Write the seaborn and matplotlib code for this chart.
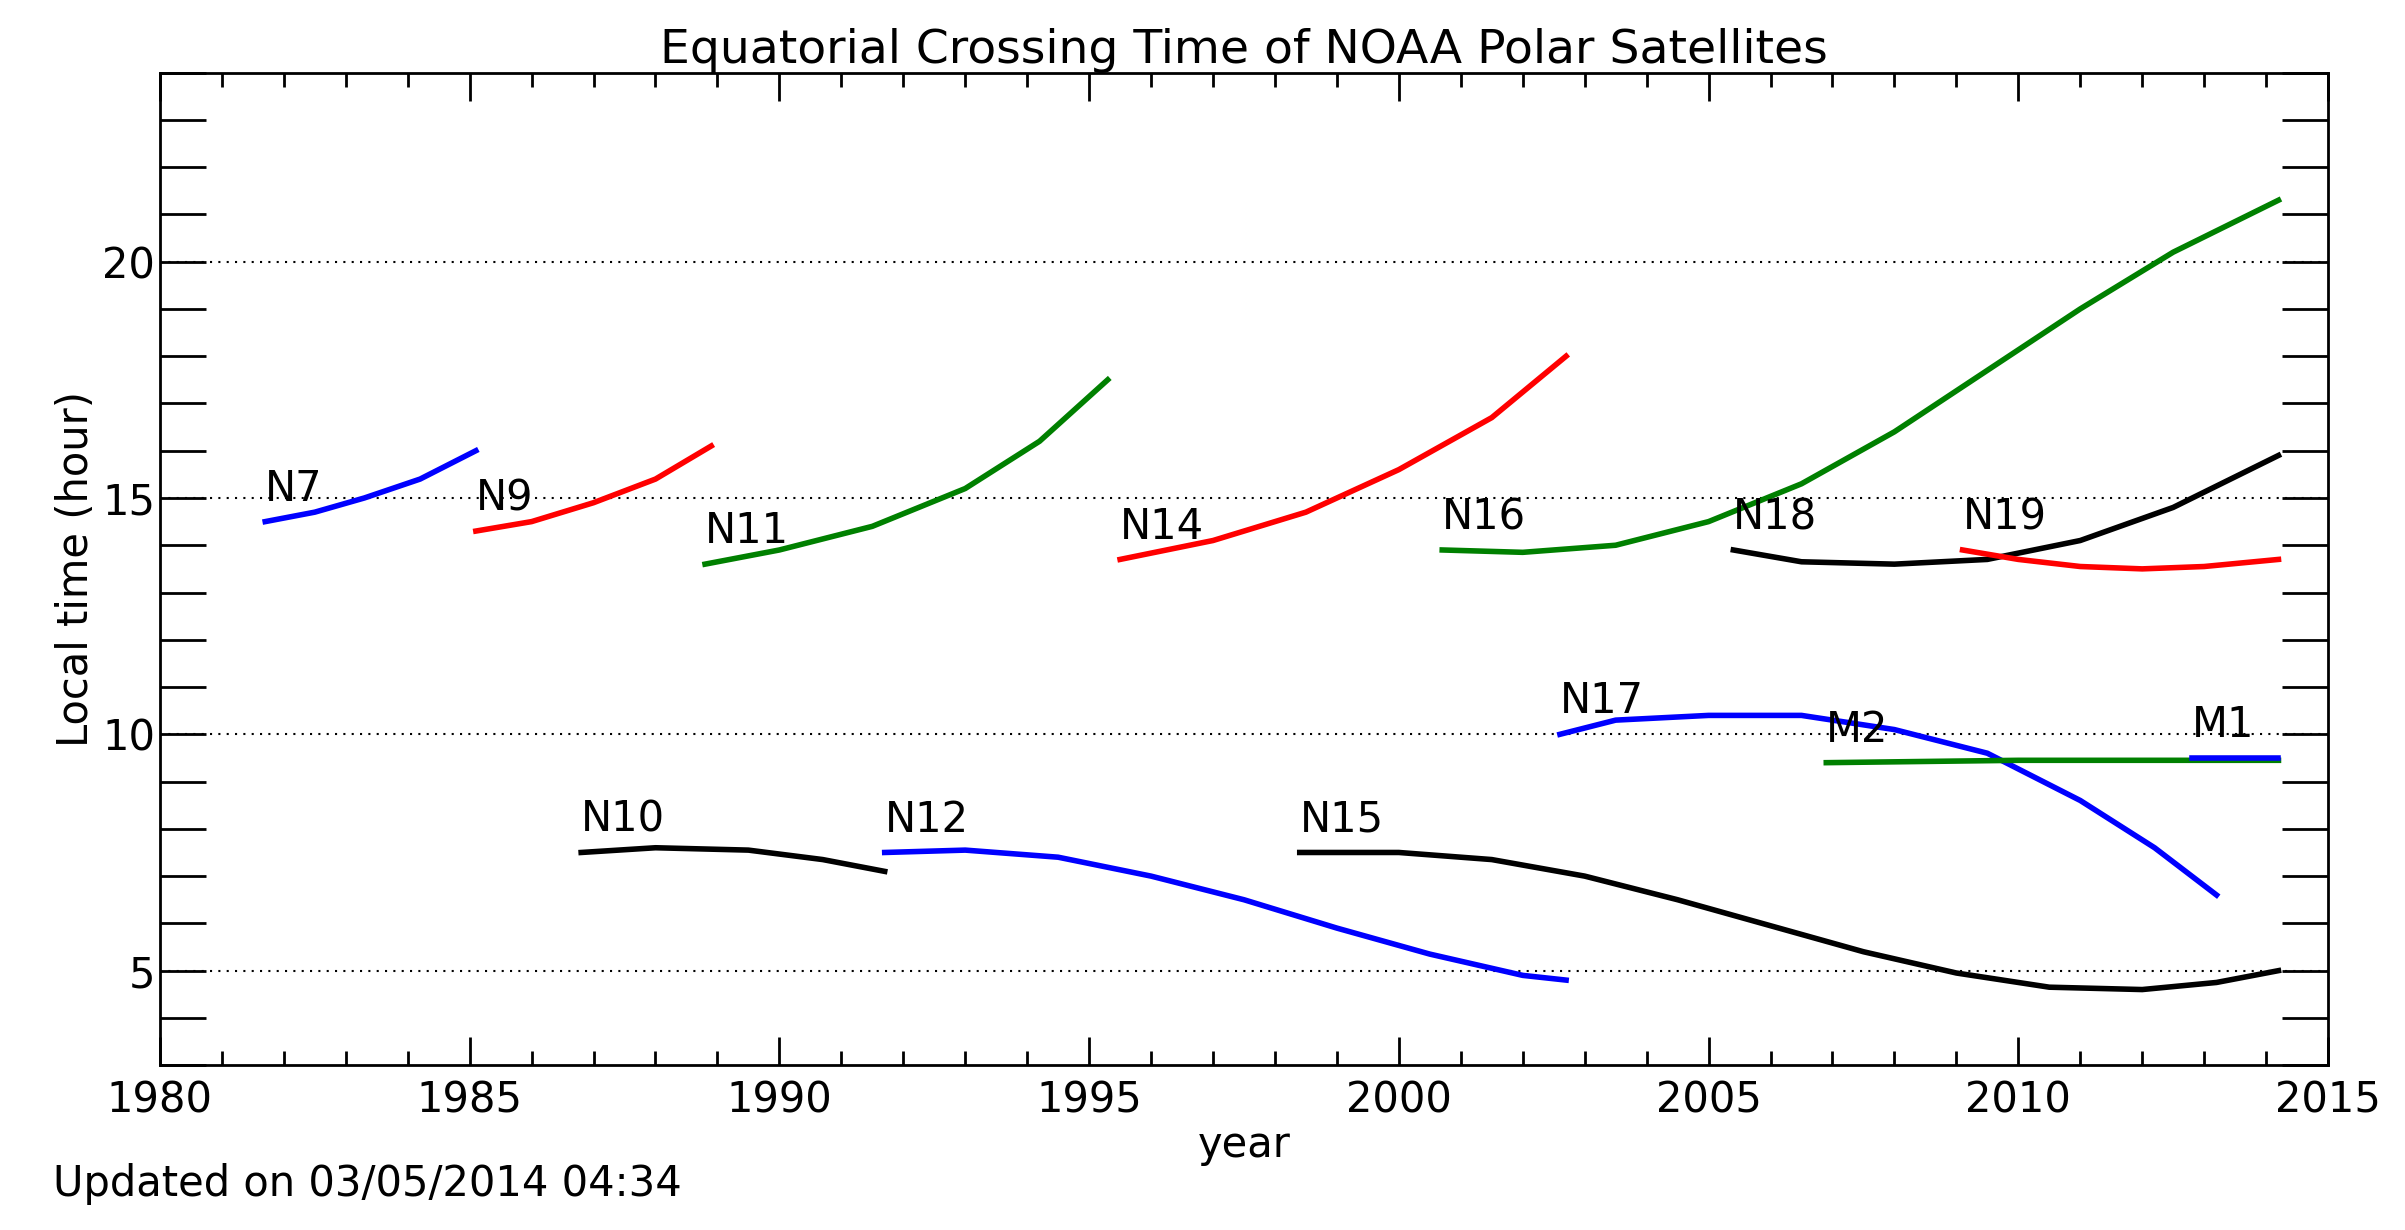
import pandas as pd
import matplotlib
matplotlib.use("Agg")
import matplotlib.pyplot as plt
import seaborn as sns
from matplotlib.ticker import MultipleLocator

# satellite tracks (year, local hour)
n7_year = [1981.7, 1982.5, 1983.3, 1984.2, 1985.1]
n7_hour = [14.5, 14.7, 15.0, 15.4, 16.0]
n9_year = [1985.1, 1986.0, 1987.0, 1988.0, 1988.9]
n9_hour = [14.3, 14.5, 14.9, 15.4, 16.1]
n11_year = [1988.8, 1990.0, 1991.5, 1993.0, 1994.2, 1995.3]
n11_hour = [13.6, 13.9, 14.4, 15.2, 16.2, 17.5]
n14_year = [1995.5, 1997.0, 1998.5, 2000.0, 2001.5, 2002.7]
n14_hour = [13.7, 14.1, 14.7, 15.6, 16.7, 18.0]
n16_year = [2000.7, 2002.0, 2003.5, 2005.0, 2006.5, 2008.0, 2009.5, 2011.0, 2012.5, 2014.2]
n16_hour = [13.9, 13.85, 14.0, 14.5, 15.3, 16.4, 17.7, 19.0, 20.2, 21.3]
n18_year = [2005.4, 2006.5, 2008.0, 2009.5, 2011.0, 2012.5, 2014.2]
n18_hour = [13.9, 13.65, 13.6, 13.7, 14.1, 14.8, 15.9]
n19_year = [2009.1, 2010.0, 2011.0, 2012.0, 2013.0, 2014.2]
n19_hour = [13.9, 13.7, 13.55, 13.5, 13.55, 13.7]
n17_year = [2002.6, 2003.5, 2005.0, 2006.5, 2008.0, 2009.5, 2011.0, 2012.2, 2013.2]
n17_hour = [10.0, 10.3, 10.4, 10.4, 10.1, 9.6, 8.6, 7.6, 6.6]
m2_year = [2006.9, 2010.0, 2014.2]
m2_hour = [9.4, 9.45, 9.45]
m1_year = [2012.8, 2014.2]
m1_hour = [9.5, 9.5]
n10_year = [1986.8, 1988.0, 1989.5, 1990.7, 1991.7]
n10_hour = [7.5, 7.6, 7.55, 7.35, 7.1]
n12_year = [1991.7, 1993.0, 1994.5, 1996.0, 1997.5, 1999.0, 2000.5, 2002.0, 2002.7]
n12_hour = [7.5, 7.55, 7.4, 7.0, 6.5, 5.9, 5.35, 4.9, 4.8]
n15_year = [1998.4, 2000.0, 2001.5, 2003.0, 2004.5, 2006.0, 2007.5, 2009.0, 2010.5, 2012.0, 2013.2, 2014.2]
n15_hour = [7.5, 7.5, 7.35, 7.0, 6.5, 5.95, 5.4, 4.95, 4.65, 4.6, 4.75, 5.0]

tracks = [
    ("N7", n7_year, n7_hour, "blue"),
    ("N9", n9_year, n9_hour, "red"),
    ("N11", n11_year, n11_hour, "green"),
    ("N14", n14_year, n14_hour, "red"),
    ("N16", n16_year, n16_hour, "green"),
    ("N18", n18_year, n18_hour, "black"),
    ("N19", n19_year, n19_hour, "red"),
    ("N17", n17_year, n17_hour, "blue"),
    ("M2", m2_year, m2_hour, "green"),
    ("M1", m1_year, m1_hour, "blue"),
    ("N10", n10_year, n10_hour, "black"),
    ("N12", n12_year, n12_hour, "blue"),
    ("N15", n15_year, n15_hour, "black"),
]

fig = plt.figure(figsize=(24.05, 12.3), dpi=100)
ax = fig.add_axes([0.0665, 0.134, 0.9015, 0.807])

for name, yrs, hrs, col in tracks:
    df = pd.DataFrame({"year": yrs, "hour": hrs})
    sns.lineplot(data=df, x="year", y="hour", color=col, linewidth=4, ax=ax, sort=False)
    ax.text(yrs[0], hrs[0] + 0.25, name, fontsize=30, ha="left", va="bottom")

for h in [5, 10, 15, 20]:
    ax.axhline(h, color="black", linestyle=(0, (1, 3)), linewidth=1.5, zorder=0)

ax.set_xlim(1980, 2015)
ax.set_ylim(3, 24)
ax.xaxis.set_major_locator(MultipleLocator(5))
ax.xaxis.set_minor_locator(MultipleLocator(1))
ax.yaxis.set_major_locator(MultipleLocator(5))
ax.yaxis.set_minor_locator(MultipleLocator(1))
ax.tick_params(axis="x", which="both", direction="in", labelsize=30, width=2, top=True, pad=10)
ax.tick_params(axis="x", which="major", length=20)
ax.tick_params(axis="x", which="minor", length=10)
ax.tick_params(axis="y", which="both", direction="in", labelsize=30, width=2, right=True,
               length=33)
for s in ax.spines.values():
    s.set_linewidth(2)
ax.set_xlabel("year", fontsize=30, labelpad=2)
ax.set_ylabel("Local time (hour)", fontsize=30)
ax.set_title("Equatorial Crossing Time of NOAA Polar Satellites", fontsize=34, pad=6)
fig.text(0.022, 0.028, "Updated on 03/05/2014 04:34", fontsize=30)

fig.savefig("out.png", dpi=100)
